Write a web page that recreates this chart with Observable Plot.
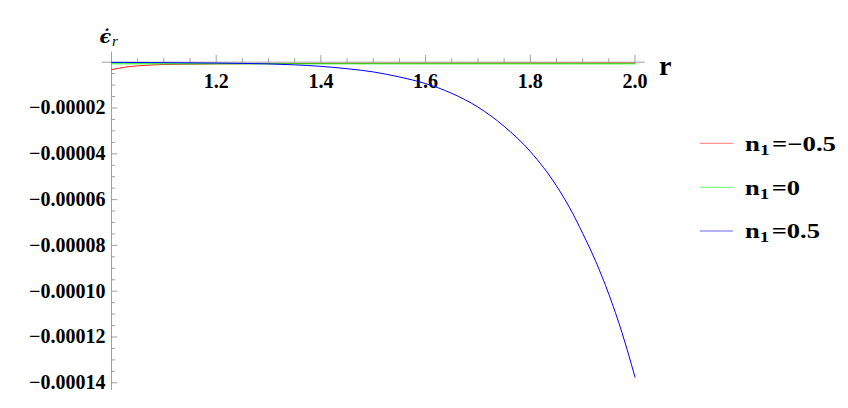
<!DOCTYPE html>
<html><head><meta charset="utf-8">
<script src="https://cdn.jsdelivr.net/npm/d3@7"></script>
<script src="https://cdn.jsdelivr.net/npm/@observablehq/plot@0.6"></script>
<style>
body{margin:0;background:#fff;}
#chart{width:848px;height:408px;position:relative;}
svg{font-family:"Liberation Serif","Times New Roman",serif;}
</style>
</head><body><div id="chart"></div>
<script>
// radial coordinate samples
const r = [1.0,1.025,1.05,1.075,1.1,1.15,1.2,1.25,1.3,1.35,1.4,1.45,1.5,1.55,1.6,1.65,1.7,1.75,1.8,1.85,1.875,1.9,1.925,1.95,1.975,2.0];
// values in units of 1e-6
const epsNeg = [-3.3,-2.2,-1.6,-1.25,-1.0,-0.85,-0.75,-0.68,-0.62,-0.58,-0.55,-0.52,-0.5,-0.48,-0.46,-0.45,-0.44,-0.43,-0.42,-0.41,-0.41,-0.4,-0.4,-0.4,-0.4,-0.4];
const epsZero = [-0.7,-0.7,-0.7,-0.7,-0.7,-0.7,-0.7,-0.7,-0.7,-0.7,-0.7,-0.7,-0.7,-0.7,-0.7,-0.7,-0.7,-0.7,-0.7,-0.7,-0.7,-0.7,-0.7,-0.7,-0.7,-0.7];
const epsPos = [-0.08,-0.1,-0.13,-0.16,-0.2,-0.28,-0.38,-0.52,-0.74,-1.16,-1.81,-2.85,-4.24,-6.45,-9.34,-13.6,-19.6,-28.0,-39.0,-54.0,-63.5,-74.7,-87.0,-101.3,-118.0,-137.5];
const seriesNums = ["\u22120.5","0","0.5"];
const seriesColors = ["#ff2020","#00ff00","#0000ff"];
const xMajorTicks = [1.2,1.4,1.6,1.8,2.0];
const xMinorTicks = [1.05,1.1,1.15,1.25,1.3,1.35,1.45,1.5,1.55,1.65,1.7,1.75,1.85,1.9,1.95];
const yMajorTicks = [-0.00002,-0.00004,-0.00006,-0.00008,-0.0001,-0.00012,-0.00014];
const yMinorTicks = [-0.000005,-0.00001,-0.000015,-0.000025,-0.00003,-0.000035,-0.000045,-0.00005,-0.000055,-0.000065,-0.00007,-0.000075,-0.000085,-0.00009,-0.000095,-0.000105,-0.00011,-0.000115,-0.000125,-0.00013,-0.000135];

const allSeries = [epsNeg, epsZero, epsPos];
const table = [];
allSeries.forEach((vals, i) => vals.forEach((v, j) => table.push({r: r[j], v: v * 1e-6, s: i})));

const font = {fontFamily: "Liberation Serif", fontWeight: "bold", fontSize: 20};
const axisColor = "#a0a0a0";

const chart = Plot.plot({
  width: 848, height: 408,
  marginLeft: 111, marginRight: 213.5, marginTop: 61.7, marginBottom: 25.7,
  x: {domain: [1, 2], axis: null},
  y: {domain: [-0.00014, 0], axis: null},
  style: {background: "#fff", overflow: "visible"},
  marks: [
    Plot.ruleY([0], {x1: 0.982, x2: 2.02, stroke: axisColor}),
    Plot.ruleX([1], {y1: 0.0000044, y2: -0.0001434, stroke: axisColor}),
    Plot.axisX(xMajorTicks, {anchor: "top", tickSize: 7.7, tickFormat: () => "", label: null, stroke: axisColor}),
    Plot.axisX(xMinorTicks, {anchor: "top", tickSize: 4.5, tickFormat: () => "", label: null, stroke: axisColor}),
    Plot.axisY(yMajorTicks, {anchor: "left", tickSize: -6.3, tickFormat: () => "", label: null, stroke: axisColor}),
    Plot.axisY(yMinorTicks, {anchor: "left", tickSize: -4, tickFormat: () => "", label: null, stroke: axisColor}),
    Plot.text(xMajorTicks, {x: d => d, y: 0, dy: 19.5, text: d => d.toFixed(1), ...font, fill: "#000", ariaLabel: "x-labels"}),
    Plot.text(yMajorTicks, {x: 1, y: d => d, dx: -6, textAnchor: "end", text: d => "\u2212" + Math.abs(d).toFixed(5), ...font, fill: "#000", ariaLabel: "y-labels"}),
    ...allSeries.map((_, i) => Plot.line(table.filter(d => d.s === i), {x: "r", y: "v", stroke: seriesColors[i], strokeWidth: 1, curve: "monotone-x"}))
  ]
});
document.getElementById("chart").appendChild(chart);

const svg = d3.select(chart);
// the reference glyphs are drawn wider than the font's natural width
svg.selectAll('g[aria-label="x-labels"] text').attr("textLength", 26).attr("lengthAdjust", "spacingAndGlyphs");
svg.selectAll('g[aria-label="y-labels"] text').attr("textLength", 88).attr("lengthAdjust", "spacingAndGlyphs");

const txt = (x, y, s, attrs) => {
  const t = svg.append("text").attr("x", x).attr("y", y).attr("text-anchor", "start").attr("fill", "#000").attr("font-family", "Liberation Serif").text(s);
  Object.entries(attrs || {}).forEach(([k, v]) => t.attr(k, v));
  return t;
};
// vertical axis label: epsilon with dot above and subscript r
const yl = txt(99.5, 43, "", {"font-family": "DejaVu Serif", "font-style": "italic", "font-weight": "bold", "font-size": 19});
yl.append("tspan").text("\u03f5\u0307");
yl.append("tspan").attr("font-family", "Liberation Serif").attr("font-weight", "normal").attr("font-size", 15).attr("dy", 3).attr("dx", 1).text("r");
// horizontal axis label
txt(659, 75, "r", {"font-weight": "bold", "font-size": 28});
// legend
const legendY = [143.3, 187.3, 231];
const legendW = [91, 55, 75];
seriesNums.forEach((num, i) => {
  svg.append("line").attr("x1", 700).attr("x2", 733).attr("y1", legendY[i]).attr("y2", legendY[i]).attr("stroke", seriesColors[i]).attr("stroke-width", 1).attr("stroke-opacity", 0.6);
  const t = txt(745, legendY[i] + 7.4, "", {"font-weight": "bold", "font-size": 21});
  t.append("tspan").text("n");
  t.append("tspan").attr("font-size", 15).attr("dy", 4).text("1");
  t.append("tspan").attr("dy", -4).attr("dx", 2).text("=" + num);
  t.attr("textLength", legendW[i]).attr("lengthAdjust", "spacingAndGlyphs");
});
</script>
</body></html>
